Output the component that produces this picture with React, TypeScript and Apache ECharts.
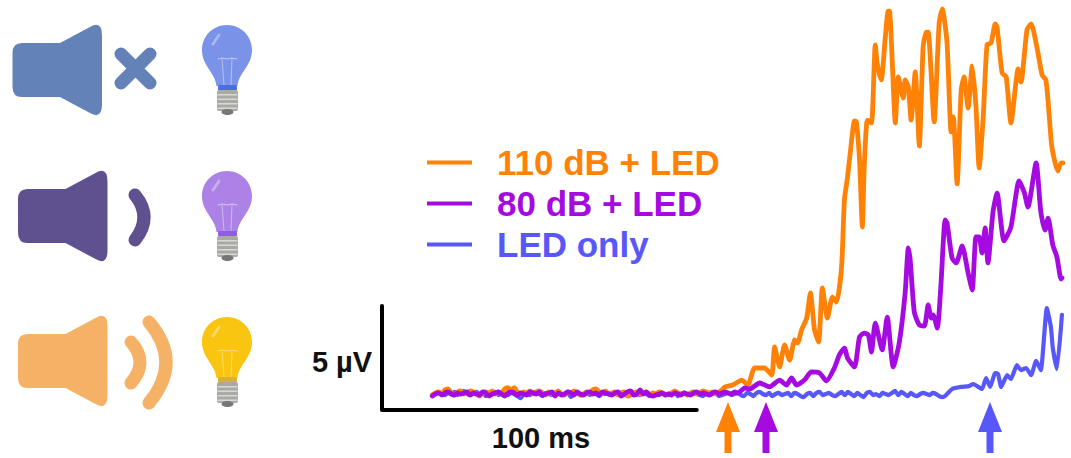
import React, { useEffect, useRef } from "react";
import * as echarts from "echarts";

// Time in ms, voltage in µV relative to baseline
const orangeBaseline = [
  -0.05,0.05,0.1,0.0,0.2,0.25,0.05,-0.05,0.1,0.15,0.0,0.05,0.15,0.1,0.0,-0.1,0.05,0.1,0.05,0.15,
  0.0,0.1,0.05,0.25,0.3,0.2,0.3,0.1,0.0,0.1,0.05,0.15,0.0,0.1,0.15,0.05,-0.05,0.1,0.0,0.05,
  0.15,0.0,-0.05,0.1,0.05,0.15,0.05,-0.05,0.0,0.1,0.05,0.2,0.25,0.1,0.05,0.15,0.0,0.05,0.1,-0.05,
  0.05,0.1,-0.1,-0.05,0.05,0.1,0.0,0.05,0.1,-0.05,0.05,0.0,0.1,0.05,-0.05,0.0,0.05,0.15,0.05,0.0,
  0.05,-0.05,0.05,0.1,0.0,0.05,0.15,0.1,0.05,0.1,0.0,0.1,0.2,
];
const purpleBaseline = [
  -0.1,0.0,0.05,-0.05,0.05,0.1,0.0,-0.05,0.05,0.0,0.05,0.1,-0.05,0.05,0.0,-0.05,0.1,0.05,-0.1,0.0,
  0.05,0.1,0.0,-0.1,0.05,0.1,0.05,-0.05,0.05,0.0,-0.05,0.1,0.05,0.0,0.1,-0.05,0.0,0.05,0.1,-0.1,
  0.05,-0.05,0.0,0.1,0.05,-0.05,0.1,0.0,-0.05,0.05,0.1,0.0,0.05,-0.05,0.1,0.05,0.0,-0.05,0.05,0.1,
  -0.1,0.0,0.1,0.15,-0.05,0.0,0.2,0.0,0.1,-0.05,-0.1,-0.05,0.0,0.05,-0.05,0.0,-0.05,0.05,0.0,-0.05,
  0.05,0.0,-0.05,0.05,0.1,0.0,0.05,0.0,-0.05,0.05,0.1,0.0,0.05,0.1,0.05,0.0,0.1,0.05,0.15,
];
const blueBaseline = [
  -0.05,0.05,0.1,0.0,-0.05,0.05,0.0,0.1,-0.05,0.05,0.15,0.0,-0.05,0.05,0.1,0.0,0.05,-0.1,0.0,0.05,
  0.1,-0.05,0.05,0.0,-0.05,0.05,0.0,-0.1,-0.2,0.0,0.05,-0.05,0.05,0.1,0.0,-0.1,0.05,0.0,-0.05,0.05,
  0.1,-0.05,0.0,0.05,-0.15,0.0,0.05,-0.05,0.0,0.1,-0.05,0.05,0.0,-0.1,0.05,0.0,0.05,-0.05,0.05,0.0,
  -0.1,0.05,0.0,0.1,-0.05,0.0,-0.05,0.05,0.0,-0.1,0.05,0.0,-0.05,0.05,0.0,-0.05,0.05,0.1,-0.1,0.0,
  0.05,-0.05,0.0,0.05,0.0,-0.05,-0.1,0.05,-0.05,0.0,0.05,-0.1,-0.05,0.0,0.05,-0.05,0.0,0.05,-0.05,-0.1,
  0.05,0.0,-0.1,0.05,0.1,0.0,-0.05,0.05,-0.1,0.0,0.05,-0.05,0.0,0.05,-0.1,0.05,0.0,-0.1,-0.15,0.0,
  0.05,-0.1,0.05,0.1,-0.05,0.0,0.05,-0.05,-0.1,0.0,0.1,-0.05,0.1,0.0,-0.1,0.05,-0.05,-0.15,0.05,0.1,
  -0.05,0.0,-0.1,0.05,0.0,-0.05,0.05,0.15,-0.05,0.1,0.0,-0.1,0.05,-0.05,-0.1,0.0,0.05,0.0,-0.05,0.05,
  0.0,-0.1,-0.15,
];

const orangeTimes = [
  92.9,95.4,98.3,100.2,102.4,105.5,107.8,108.7,110.3,111.9,113.5,115.1,116.0,117.3,118.9,120.1,121.4,122.7,123.9,125.5,
  127.1,128.4,130.0,130.9,131.9,133.1,134.1,134.7,135.7,136.6,137.2,138.2,139.5,140.7,141.4,142.6,143.9,144.8,145.2,
  147.1,148.0,149.6,150.2,151.2,152.1,153.4,154.7,155.9,156.9,157.5,159.4,161.0,162.0,163.5,164.8,165.5,166.7,168.0,168.9,
  170.2,171.5,172.7,173.7,175.0,176.2,177.5,178.8,179.4,181.0,182.3,183.8,186.1,187.0,188.9,190.2,192.1,193.7,194.9,195.9,
  196.8,198.7,199.7,200.3,
];
const orangeValues = [
  0.34,0.43,0.67,0.43,1.25,1.25,0.91,2.26,1.3,2.36,1.63,2.6,2.45,3.08,3.65,4.86,3.08,2.5,5.1,3.65,
  4.66,4.42,6.11,9.33,10.43,12.07,13.13,13.08,11.25,8.03,10.91,13.17,13.03,16.78,15.82,15.1,17.16,18.41,18.41,
  13.03,15.24,14.23,15.1,14.76,13.17,15.48,11.92,16.68,17.4,17.4,13.08,17.84,18.51,16.88,12.6,13.32,10.1,14.62,15.24,
  13.75,15.77,13.8,10.87,13.32,16.78,16.88,17.79,17.64,15.43,15.24,13.03,15.63,15.0,17.5,17.79,16.63,15.34,15.1,13.51,
  11.88,10.72,11.11,11.11,
];
const purpleTimes = [
  99.2,100.8,104.0,107.1,110.3,112.5,114.1,115.7,118.2,120.4,123.0,125.2,127.7,129.3,130.9,131.9,134.1,135.7,137.2,138.5,
  139.5,140.7,142.9,144.5,146.4,148.3,150.2,151.2,151.8,153.1,154.7,156.3,157.5,158.5,159.1,160.4,161.6,162.9,163.5,165.1,
  166.4,168.3,170.2,171.5,172.7,173.7,174.6,175.6,176.5,178.1,179.4,181.6,183.8,186.4,188.0,189.2,191.8,193.3,194.6,195.6,
  197.1,198.4,199.7,200.0,
];
const purpleValues = [
  0.29,0.24,0.53,0.34,0.67,0.43,0.77,0.43,0.67,1.06,1.01,0.63,1.25,1.88,2.21,1.73,1.3,2.74,2.93,2.84,
  2.02,3.41,2.12,3.7,1.3,2.45,4.86,7.02,6.44,3.94,3.32,3.27,4.28,3.65,3.8,3.17,5.34,8.37,8.22,6.54,
  6.3,7.12,5.82,5.0,7.55,7.55,6.78,7.98,6.3,8.75,9.66,7.36,8.03,10.24,9.71,8.99,11.11,8.75,7.88,8.46,
  7.16,6.59,5.53,5.58,
];
const blueTimes = [
  163.2,165.1,168.0,170.5,171.8,174.6,175.9,177.2,178.8,179.7,180.7,182.6,183.8,185.7,187.0,188.6,190.2,191.8,193.3,195.2,
  196.5,197.1,198.4,200.0,
];
const blueValues = [
  -0.05,0.24,0.34,0.38,0.48,0.24,0.77,0.34,1.01,0.96,0.34,0.91,0.72,1.39,1.15,1.25,0.91,1.59,1.15,4.13,
  3.22,2.21,1.2,3.8,
];

const legendLabels = ["110 dB + LED", "80 dB + LED", "LED only"];
const scaleBarX = [-16, -16, 84];
const scaleBarY = [4.23, -0.77, -0.77];
const voltageLabel = "5 µV";
const timeLabel = "100 ms";

const ORANGE = "#FF8207";
const PURPLE = "#A50BE0";
const BLUE = "#5757FA";

const speakerPath =
  "M22 43 L60 43 L90 27 Q102 20 102 36 L102 104 Q102 120 90 113 L60 97 L22 97 Q12.5 97 12.5 87 L12.5 53 Q12.5 43 22 43 Z";
const glassPath =
  "M227 25 C241 25 252 36 252 50 C252 66 239 72 237.5 86 L216.5 86 C215 72 202 66 202 50 C202 36 213 25 227 25 Z";
echarts.graphic.registerShape("speaker", echarts.graphic.extendPath(speakerPath, {}));
echarts.graphic.registerShape("glass", echarts.graphic.extendPath(glassPath, {}));

function trace(baseline: number[], times: number[], values: number[]) {
  const head = baseline.map((v, i) => [i, v]);
  const tail = times.map((t, i) => [t, values[i]]);
  return head.concat(tail);
}

function stroked(type: string, shape: any, color: string, width: number) {
  return { type, shape, silent: true, style: { stroke: color, lineWidth: width, lineCap: "round", fill: "none" } };
}

function bulb(dy: number, fill: string, collar: string, wire: string) {
  const stripes = [94, 98.5, 103, 107.5].map((y) => ({
    type: "rect",
    shape: { x: 217.5, y, width: 20, height: 1.5 },
    style: { fill: "#D9D9D5" },
  }));
  return {
    type: "group",
    x: 0,
    y: dy,
    children: [
      { type: "glass", style: { fill } },
      stroked("line", { x1: 213, y1: 44, x2: 219, y2: 35 }, "rgba(255,255,255,0.35)", 3),
      stroked("polyline", { points: [[218, 59], [222, 58], [227, 59], [232, 58], [237, 59]] }, wire, 1),
      stroked("polyline", { points: [[222, 59], [224, 85]] }, wire, 0.8),
      stroked("polyline", { points: [[232, 59], [231, 85]] }, wire, 0.8),
      { type: "rect", shape: { x: 218, y: 85, width: 19, height: 5.5, r: 1.5 }, style: { fill: collar } },
      { type: "rect", shape: { x: 217, y: 90, width: 21, height: 21, r: 2 }, style: { fill: "#A9A9A5" } },
      ...stripes,
      { type: "ellipse", shape: { cx: 227.5, cy: 112, rx: 6, ry: 3 }, style: { fill: "#77777A" } },
    ],
  };
}

function arrow(x: number, color: string) {
  return {
    type: "polygon",
    shape: {
      points: [[x, 402], [x + 12, 432], [x + 3.5, 432], [x + 3.5, 453], [x - 3.5, 453], [x - 3.5, 432], [x - 12, 432]],
    },
    style: { fill: color },
  };
}

function label(text: string, x: number, y: number) {
  return {
    type: "text",
    x,
    y,
    style: {
      text,
      fill: "#111",
      font: "bold 29px 'Liberation Sans', Arial, sans-serif",
      align: "center",
      verticalAlign: "middle",
    },
  };
}

function lineSeries(name: string, color: string, data: number[][], width: number, smooth: number | boolean) {
  return {
    type: "line",
    name,
    color,
    data,
    showSymbol: false,
    smooth,
    silent: true,
    lineStyle: { color, width, join: "round", cap: "round" },
  };
}

export default function App() {
  const ref = useRef<HTMLDivElement>(null);
  useEffect(() => {
    const chart = echarts.init(ref.current!, undefined, { renderer: "svg" });
    chart.setOption({
      animation: false,
      backgroundColor: "#fff",
      grid: { left: 382, top: 4, width: 681.5, height: 431.6 },
      xAxis: { type: "value", min: -16, max: 200.5, show: false },
      yAxis: { type: "value", min: -2, max: 18.75, show: false },
      legend: {
        left: 427,
        top: 145,
        orient: "vertical",
        align: "left",
        padding: 0,
        itemWidth: 45,
        itemHeight: 4,
        itemGap: 6,
        icon: "rect",
        selectedMode: false,
        data: legendLabels.map((name, i) => ({
          name,
          textStyle: {
            color: [ORANGE, PURPLE, BLUE][i],
            fontFamily: "'Liberation Sans', Arial, sans-serif",
            fontWeight: "bold",
            fontSize: 35,
            padding: [0, 0, 0, 20],
          },
        })),
      },
      series: [
        lineSeries(legendLabels[2], BLUE, trace(blueBaseline, blueTimes, blueValues), 4.2, 0.15),
        lineSeries(legendLabels[0], ORANGE, trace(orangeBaseline, orangeTimes, orangeValues), 4.8, 0.2),
        lineSeries(legendLabels[1], PURPLE, trace(purpleBaseline, purpleTimes, purpleValues), 4.8, 0.2),
        lineSeries("scale", "#000", scaleBarX.map((x, i) => [x, scaleBarY[i]]), 4, false),
      ],
      graphic: [
        { type: "speaker", x: 0, y: 0, style: { fill: "#6282B8" } },
        stroked("line", { x1: 121, y1: 54, x2: 150, y2: 83 }, "#6282B8", 13),
        stroked("line", { x1: 150, y1: 54, x2: 121, y2: 83 }, "#6282B8", 13),
        { type: "speaker", x: 5.5, y: 146, style: { fill: "#5F5090" } },
        stroked("bezierCurve", { x1: 135, y1: 195, cpx1: 153, cpy1: 217, x2: 135, y2: 240 }, "#5F5090", 13),
        { type: "speaker", x: 5.5, y: 291, style: { fill: "#F5B266" } },
        stroked("bezierCurve", { x1: 131, y1: 342, cpx1: 149, cpy1: 362, x2: 131, y2: 383 }, "#F5B266", 13),
        stroked("bezierCurve", { x1: 149, y1: 322, cpx1: 183, cpy1: 362, x2: 149, y2: 403 }, "#F5B266", 13),
        bulb(0, "#7A92E8", "#4C6EE0", "rgba(255,255,255,0.55)"),
        bulb(146, "#AC82E6", "#8F5CE8", "rgba(255,255,255,0.55)"),
        bulb(292, "#F9C510", "#D9B030", "rgba(255,255,255,0.45)"),
        arrow(728, ORANGE),
        arrow(766, PURPLE),
        arrow(990, BLUE),
        label(voltageLabel, 342, 362),
        label(timeLabel, 541, 438),
      ],
    });
    return () => chart.dispose();
  }, []);
  return <div ref={ref} style={{ position: "absolute", left: 0, top: 0, width: 1071, height: 458 }} />;
}
